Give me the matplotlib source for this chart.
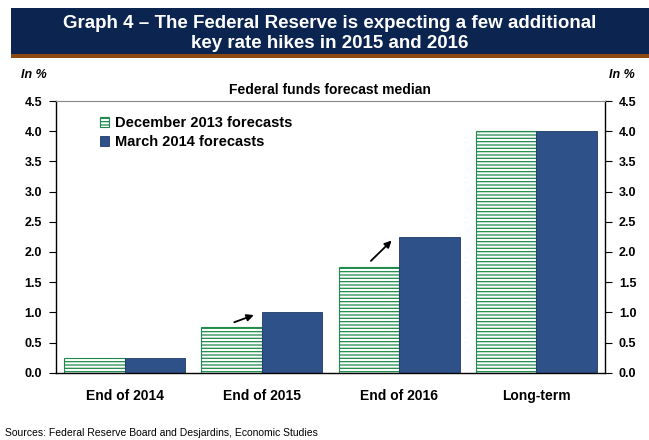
import numpy as np
import matplotlib.pyplot as plt
from matplotlib.patches import Rectangle

plt.rcParams['font.family'] = ['Liberation Sans', 'DejaVu Sans']
plt.rcParams['hatch.linewidth'] = 0.9

categories = ['End of 2014', 'End of 2015', 'End of 2016', 'Long-term']
dec_2013 = [0.25, 0.75, 1.75, 4.0]
mar_2014 = [0.25, 1.0, 2.25, 4.0]
yticks = [0.0, 0.5, 1.0, 1.5, 2.0, 2.5, 3.0, 3.5, 4.0, 4.5]

navy = '#0b2450'
brown = '#8a4a12'
green = '#1f8a4c'
blue = '#2f5189'

fig = plt.figure(figsize=(6.49, 4.40), dpi=100)

# title band
fig.patches.append(Rectangle((11/649, 1-54/440), 1, 46/440, transform=fig.transFigure,
                             facecolor=navy, edgecolor='none'))
fig.patches.append(Rectangle((11/649, 1-58/440), 1, 4/440, transform=fig.transFigure,
                             facecolor=brown, edgecolor='none'))
fig.text(330/649, 1-24/440, 'Graph 4 \u2013 The Federal Reserve is expecting a few additional',
         ha='center', va='center', color='white', fontsize=13.5, fontweight='bold')
fig.text(330/649, 1-43/440, 'key rate hikes in 2015 and 2016',
         ha='center', va='center', color='white', fontsize=13.5, fontweight='bold')

ax = fig.add_axes([56/649, (440-372.7)/440, 549/649, 271.7/440])
x = np.arange(len(categories))
w = 0.44
ax.bar(x - w/2, dec_2013, w, facecolor='white', edgecolor=green, hatch='-----',
       linewidth=0.8, label='December 2013 forecasts')
ax.bar(x + w/2, mar_2014, w, facecolor=blue, edgecolor='#1f3a66',
       linewidth=0.6, label='March 2014 forecasts')

ax.set_xlim(-0.5, 3.5)
ax.set_ylim(0, 4.5)
ax.set_yticks(yticks)
ax.set_yticklabels([f'{v:.1f}' for v in yticks], fontweight='bold', fontsize=9)
ax.tick_params(axis='y', direction='out', length=5, width=0.8, pad=5,
               right=True, labelright=True)
ax.set_xticks(x)
ax.set_xticklabels(categories, fontweight='bold', fontsize=10)
ax.tick_params(axis='x', length=0, pad=12)
ax.spines['top'].set_color('#888888')
for s in ['left', 'right', 'bottom']:
    ax.spines[s].set_color('black')
    ax.spines[s].set_linewidth(1.0)

# arrows showing the revision between forecasts
for i in (1, 2):
    ax.annotate('', xy=(x[i] - 0.04, mar_2014[i] - 0.03),
                xytext=(x[i] - 0.22, dec_2013[i] + 0.07),
                arrowprops=dict(arrowstyle='-|>', color='black', lw=1.3,
                                mutation_scale=10))

leg = ax.legend(loc='upper left', bbox_to_anchor=(0.08, 0.945), frameon=False,
                prop={'weight': 'bold', 'size': 10.5}, handlelength=0.65,
                handleheight=0.65, handletextpad=0.4, labelspacing=0.35,
                borderpad=0, borderaxespad=0)

fig.text(21/649, 1-75/440, 'In %', ha='left', va='center', fontsize=9,
         fontweight='bold', fontstyle='italic')
fig.text(635/649, 1-75/440, 'In %', ha='right', va='center', fontsize=9,
         fontweight='bold', fontstyle='italic')
fig.text(330/649, 1-90/440, 'Federal funds forecast median', ha='center',
         va='center', fontsize=10, fontweight='bold')
fig.text(5/649, 1-433/440, 'Sources: Federal Reserve Board and Desjardins, Economic Studies',
         ha='left', va='center', fontsize=7.5)

fig.savefig('out.png', dpi=100)
